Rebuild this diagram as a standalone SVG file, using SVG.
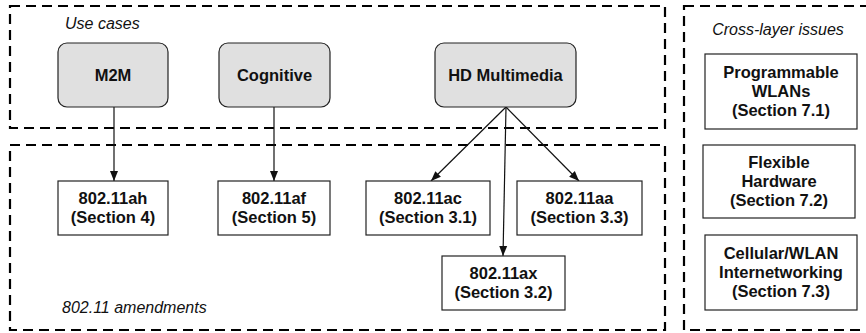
<svg xmlns="http://www.w3.org/2000/svg" width="866" height="333" viewBox="0 0 866 333">
<defs>
<style>
.grp{fill:none;stroke:#000;stroke-width:2.2;stroke-dasharray:10 6}
.uc{fill:#e0e0e0;stroke:#222;stroke-width:1.2}
.bx{fill:#fff;stroke:#222;stroke-width:1.2}
.t{font-family:"Liberation Sans",Arial,sans-serif;font-size:16.5px;font-weight:bold;text-anchor:middle;fill:#111}
.it{font-family:"Liberation Sans",Arial,sans-serif;font-size:16px;font-style:italic;fill:#111}
.c{fill:none;stroke:#111;stroke-width:1.2}
</style>
<marker id="ah" markerWidth="10" markerHeight="10" viewBox="0 0 10 10" refX="10" refY="5" orient="auto" markerUnits="userSpaceOnUse">
<path d="M0,1 L10,5 L0,9 z" fill="#111"/>
</marker>
</defs>
<g id="groups">
<rect class="grp" x="10" y="6" width="655" height="122"/>
<rect class="grp" x="10" y="145" width="655" height="185"/>
<rect class="grp" x="684" y="6" width="190" height="324"/>
<text class="it" x="65" y="29">Use cases</text>
<text class="it" x="62" y="313">802.11 amendments</text>
<text class="it" x="778" y="35" style="text-anchor:middle">Cross-layer issues</text>
</g>
<g id="connectors">
<line class="c" x1="114" y1="107" x2="114" y2="181" marker-end="url(#ah)"/>
<line class="c" x1="274" y1="107" x2="274" y2="181" marker-end="url(#ah)"/>
<line class="c" x1="506" y1="107" x2="431" y2="181" marker-end="url(#ah)"/>
<line class="c" x1="506" y1="107" x2="503" y2="256" marker-end="url(#ah)"/>
<line class="c" x1="506" y1="107" x2="579" y2="181" marker-end="url(#ah)"/>
</g>
<g id="m2m"><rect class="uc" x="58" y="43" width="110" height="64" rx="9"/><text class="t" x="113" y="81">M2M</text></g>
<g id="cognitive"><rect class="uc" x="219" y="43" width="111" height="64" rx="9"/><text class="t" x="274.5" y="81">Cognitive</text></g>
<g id="hdmm"><rect class="uc" x="435" y="43" width="141" height="64" rx="9"/><text class="t" x="505.5" y="81">HD Multimedia</text></g>
<g id="ah11"><rect class="bx" x="58" y="181" width="110" height="54"/><text class="t" x="113" y="204">802.11ah</text><text class="t" x="113" y="223">(Section 4)</text></g>
<g id="af11"><rect class="bx" x="218" y="181" width="112" height="54"/><text class="t" x="274" y="204">802.11af</text><text class="t" x="274" y="223">(Section 5)</text></g>
<g id="ac11"><rect class="bx" x="366" y="181" width="124" height="54"/><text class="t" x="428" y="204">802.11ac</text><text class="t" x="428" y="223">(Section 3.1)</text></g>
<g id="aa11"><rect class="bx" x="517" y="181" width="125" height="54"/><text class="t" x="579.5" y="204">802.11aa</text><text class="t" x="579.5" y="223">(Section 3.3)</text></g>
<g id="ax11"><rect class="bx" x="442" y="256" width="123" height="54"/><text class="t" x="503.5" y="279">802.11ax</text><text class="t" x="503.5" y="298">(Section 3.2)</text></g>
<g id="prog"><rect class="bx" x="705" y="54" width="152" height="75"/><text class="t" x="781" y="78">Programmable</text><text class="t" x="781" y="97">WLANs</text><text class="t" x="781" y="116">(Section 7.1)</text></g>
<g id="flex"><rect class="bx" x="703" y="145" width="152" height="73"/><text class="t" x="779" y="168">Flexible</text><text class="t" x="779" y="187">Hardware</text><text class="t" x="779" y="206">(Section 7.2)</text></g>
<g id="cell"><rect class="bx" x="705" y="235" width="152" height="75"/><text class="t" x="781" y="259">Cellular/WLAN</text><text class="t" x="781" y="278">Internetworking</text><text class="t" x="781" y="297">(Section 7.3)</text></g>
</svg>
